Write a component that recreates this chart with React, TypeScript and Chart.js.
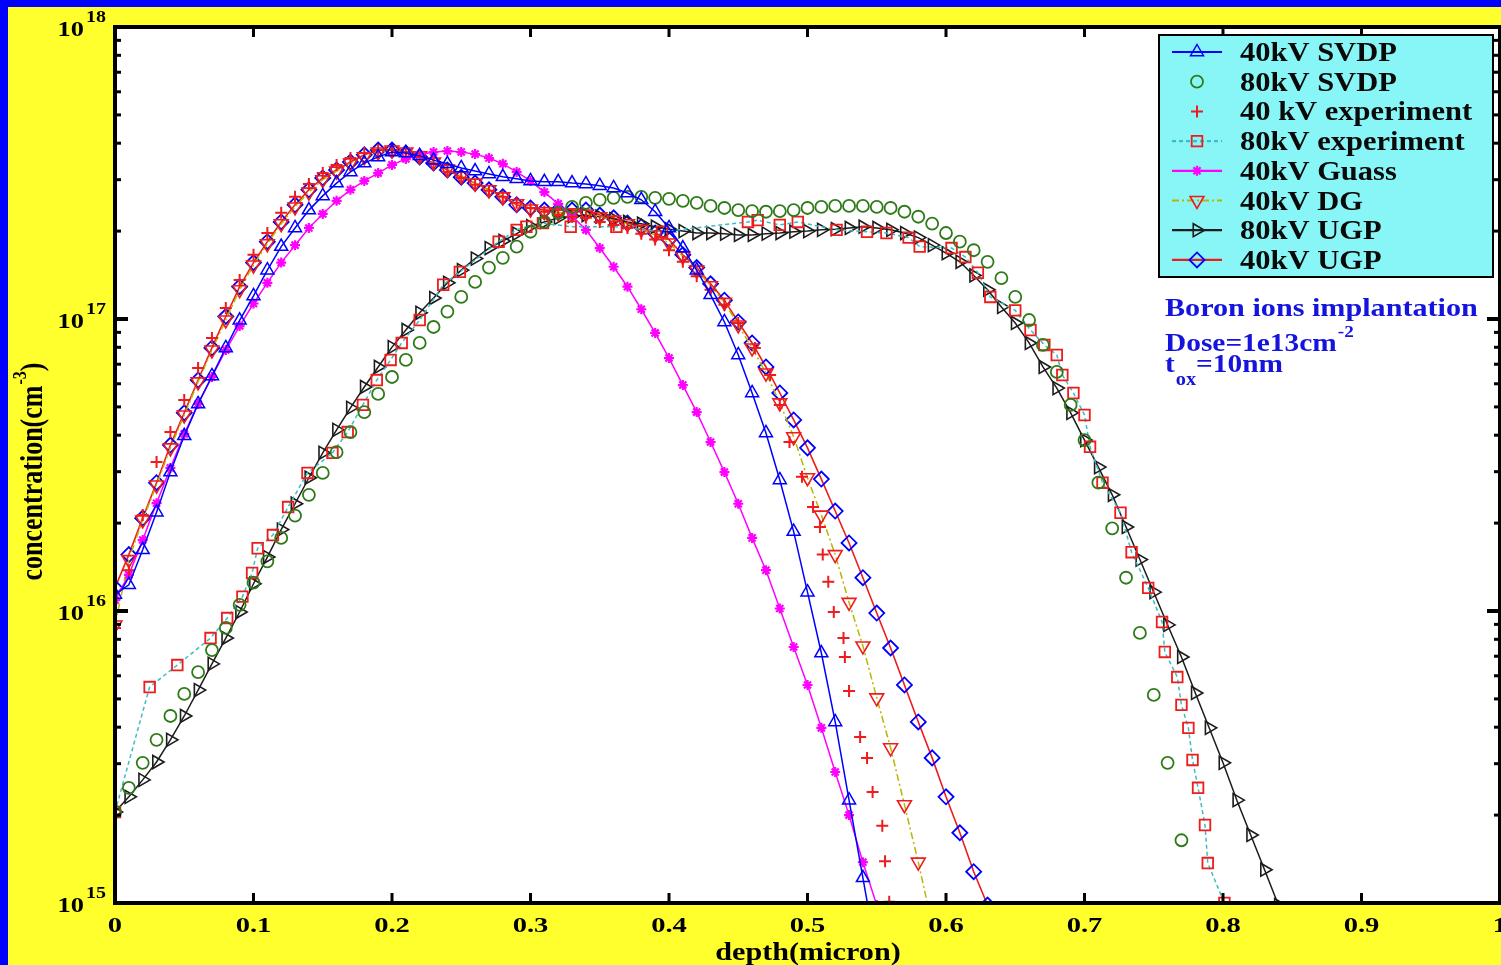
import React, { useEffect, useRef } from 'react';
import { Chart, registerables } from 'chart.js';

Chart.register(...registerables);

// ---------- axis data ----------
const xTickValues = [0, 0.1, 0.2, 0.3, 0.4, 0.5, 0.6, 0.7, 0.8, 0.9, 1];
const xTickLabels = ['0', '0.1', '0.2', '0.3', '0.4', '0.5', '0.6', '0.7', '0.8', '0.9', '1'];
const yDecadeExponents = [15, 16, 17, 18];

// depth grid (micron) shared by the simulated profiles
const depthGrid = [
  0, 0.01, 0.02, 0.03, 0.04, 0.05, 0.06, 0.07, 0.08, 0.09,
  0.1, 0.11, 0.12, 0.13, 0.14, 0.15, 0.16, 0.17, 0.18, 0.19,
  0.2, 0.21, 0.22, 0.23, 0.24, 0.25, 0.26, 0.27, 0.28, 0.29,
  0.3, 0.31, 0.32, 0.33, 0.34, 0.35, 0.36, 0.37, 0.38, 0.39,
  0.4, 0.41, 0.42, 0.43, 0.44, 0.45, 0.46, 0.47, 0.48, 0.49,
  0.5, 0.51, 0.52, 0.53, 0.54, 0.55, 0.56, 0.57, 0.58, 0.59,
  0.6, 0.61, 0.62, 0.63, 0.64, 0.65, 0.66, 0.67, 0.68, 0.69,
  0.7, 0.71, 0.72, 0.73, 0.74, 0.75, 0.76, 0.77, 0.78, 0.79,
  0.8, 0.81, 0.82, 0.83, 0.84,
];

// ---------- series (concentration, cm^-3) ----------
const svdp40 = [
  1.14e16, 1.23e16, 1.62e16, 2.18e16, 2.99e16, 3.98e16, 5.12e16, 6.38e16, 7.96e16, 9.9e16,
  1.20e17, 1.47e17, 1.77e17, 2.05e17, 2.36e17, 2.64e17, 2.92e17, 3.19e17, 3.42e17, 3.59e17,
  3.73e17, 3.70e17, 3.62e17, 3.50e17, 3.40e17, 3.29e17, 3.21e17, 3.14e17, 3.07e17, 3.02e17,
  2.97e17, 2.95e17, 2.95e17, 2.92e17, 2.90e17, 2.86e17, 2.81e17, 2.70e17, 2.56e17, 2.33e17,
  2.05e17, 1.75e17, 1.47e17, 1.21e17, 9.77e16, 7.53e16, 5.58e16, 4.07e16, 2.81e16, 1.87e16,
  1.16e16, 7.18e15, 4.17e15, 2.25e15, 1.22e15, 6.6e14,
];

const svdp80 = [
  2.05e15, 2.48e15, 3.02e15, 3.62e15, 4.37e15, 5.20e15, 6.18e15, 7.35e15, 8.75e15, 1.05e16,
  1.25e16, 1.48e16, 1.78e16, 2.12e16, 2.50e16, 2.97e16, 3.50e16, 4.10e16, 4.80e16, 5.54e16,
  6.33e16, 7.24e16, 8.28e16, 9.39e16, 1.06e17, 1.19e17, 1.34e17, 1.50e17, 1.62e17, 1.77e17,
  1.99e17, 2.15e17, 2.31e17, 2.42e17, 2.50e17, 2.56e17, 2.60e17, 2.62e17, 2.62e17, 2.60e17,
  2.58e17, 2.54e17, 2.50e17, 2.44e17, 2.40e17, 2.36e17, 2.34e17, 2.33e17, 2.34e17, 2.36e17,
  2.40e17, 2.42e17, 2.44e17, 2.44e17, 2.44e17, 2.42e17, 2.40e17, 2.33e17, 2.24e17, 2.12e17,
  1.97e17, 1.84e17, 1.72e17, 1.57e17, 1.38e17, 1.19e17, 9.92e16, 8.15e16, 6.59e16, 5.08e16,
  3.85e16, 2.75e16, 1.92e16, 1.30e16, 8.41e15, 5.16e15, 3.02e15, 1.64e15,
];

const exp40Depth = [
  0, 0.01, 0.02, 0.03, 0.04, 0.05, 0.06, 0.07, 0.08, 0.09,
  0.1, 0.11, 0.12, 0.13, 0.14, 0.15, 0.16, 0.17, 0.18, 0.19,
  0.2, 0.21, 0.22, 0.23, 0.24, 0.25, 0.26, 0.27, 0.28, 0.29,
  0.3, 0.31, 0.32, 0.33, 0.34, 0.35, 0.36, 0.37, 0.38, 0.39,
  0.4, 0.41, 0.42, 0.43, 0.44, 0.45, 0.462, 0.473, 0.48, 0.487,
  0.496, 0.504, 0.509, 0.511, 0.515, 0.519, 0.526, 0.527, 0.53, 0.538,
  0.543, 0.547, 0.554, 0.556, 0.559,
];
const exp40 = [
  8.75e15, 1.38e16, 2.13e16, 3.24e16, 4.10e16, 5.28e16, 6.80e16, 8.61e16, 1.09e17, 1.36e17,
  1.66e17, 1.97e17, 2.31e17, 2.62e17, 2.90e17, 3.16e17, 3.37e17, 3.56e17, 3.70e17, 3.79e17,
  3.79e17, 3.73e17, 3.59e17, 3.40e17, 3.19e17, 3.04e17, 2.88e17, 2.75e17, 2.62e17, 2.50e17,
  2.40e17, 2.33e17, 2.27e17, 2.24e17, 2.22e17, 2.15e17, 2.10e17, 2.05e17, 1.96e17, 1.87e17,
  1.72e17, 1.57e17, 1.40e17, 1.26e17, 1.12e17, 9.69e16, 7.96e16, 6.43e16, 5.08e16, 3.79e16,
  2.88e16, 2.27e16, 1.94e16, 1.56e16, 1.26e16, 9.92e15, 8.08e15, 6.96e15, 5.32e15, 3.70e15,
  3.14e15, 2.40e15, 1.84e15, 1.39e15, 1.01e15,
];

const exp80Depth = [
  0, 0.025, 0.045, 0.069, 0.081, 0.092, 0.099, 0.103, 0.114, 0.125,
  0.139, 0.157, 0.168, 0.179, 0.189, 0.199, 0.207, 0.22, 0.237, 0.249,
  0.277, 0.29, 0.297, 0.309, 0.329, 0.362, 0.395, 0.457, 0.464, 0.48,
  0.493, 0.521, 0.543, 0.557, 0.573, 0.581, 0.604, 0.614, 0.623, 0.632,
  0.65, 0.661, 0.671, 0.68, 0.684, 0.692, 0.7, 0.704, 0.713, 0.726,
  0.734, 0.746, 0.756, 0.758, 0.767, 0.77, 0.775, 0.778, 0.782, 0.787,
  0.789, 0.801,
];
const exp80 = [
  2.05e15, 5.49e15, 6.53e15, 8.08e15, 9.46e15, 1.12e16, 1.35e16, 1.64e16, 1.82e16, 2.27e16,
  2.97e16, 3.48e16, 4.10e16, 5.08e16, 6.18e16, 7.24e16, 8.28e16, 9.92e16, 1.31e17, 1.45e17,
  1.84e17, 2.02e17, 2.07e17, 2.13e17, 2.07e17, 2.07e17, 1.99e17, 2.15e17, 2.18e17, 2.10e17,
  2.15e17, 2.02e17, 1.99e17, 1.97e17, 1.90e17, 1.77e17, 1.75e17, 1.63e17, 1.44e17, 1.19e17,
  1.07e17, 9.17e16, 8.15e16, 7.53e16, 6.43e16, 5.58e16, 4.69e16, 3.65e16, 2.75e16, 2.17e16,
  1.59e16, 1.20e16, 9.17e15, 7.24e15, 5.94e15, 4.77e15, 3.98e15, 3.09e15, 2.48e15, 1.85e15,
  1.37e15, 1.00e15,
];

const gauss40 = [
  1.09e16, 1.33e16, 1.75e16, 2.34e16, 3.09e16, 4.04e16, 5.12e16, 6.33e16, 7.83e16, 9.46e16,
  1.13e17, 1.33e17, 1.56e17, 1.79e17, 2.05e17, 2.29e17, 2.54e17, 2.77e17, 2.97e17, 3.16e17,
  3.37e17, 3.53e17, 3.65e17, 3.73e17, 3.76e17, 3.73e17, 3.67e17, 3.56e17, 3.40e17, 3.19e17,
  2.97e17, 2.72e17, 2.48e17, 2.25e17, 2.02e17, 1.75e17, 1.51e17, 1.29e17, 1.08e17, 8.96e16,
  7.35e16, 5.94e16, 4.80e16, 3.79e16, 2.99e16, 2.33e16, 1.78e16, 1.38e16, 1.02e16, 7.53e15,
  5.58e15, 3.98e15, 2.81e15, 2.00e15, 1.38e15, 9.84e14,
];

const dg40 = [
  8.96e15, 1.50e16, 2.05e16, 2.70e16, 3.62e16, 4.69e16, 6.09e16, 7.83e16, 9.92e16, 1.26e17,
  1.53e17, 1.81e17, 2.12e17, 2.42e17, 2.72e17, 3.00e17, 3.21e17, 3.42e17, 3.59e17, 3.73e17,
  3.79e17, 3.73e17, 3.62e17, 3.45e17, 3.26e17, 3.09e17, 2.92e17, 2.77e17, 2.62e17, 2.48e17,
  2.38e17, 2.33e17, 2.31e17, 2.31e17, 2.29e17, 2.24e17, 2.18e17, 2.12e17, 2.03e17, 1.94e17,
  1.82e17, 1.64e17, 1.47e17, 1.30e17, 1.14e17, 9.54e16, 7.96e16, 6.53e16, 5.16e16, 3.95e16,
  2.86e16, 2.13e16, 1.56e16, 1.07e16, 7.59e15, 5.04e15, 3.40e15, 2.17e15, 1.38e15, 8.41e14,
];

const ugp80 = [
  2.05e15, 2.31e15, 2.64e15, 3.04e15, 3.62e15, 4.37e15, 5.36e15, 6.59e15, 8.08e15, 9.92e15,
  1.24e16, 1.53e16, 1.90e16, 2.33e16, 2.86e16, 3.48e16, 4.17e16, 4.96e16, 5.85e16, 6.85e16,
  8.01e16, 9.17e16, 1.05e17, 1.18e17, 1.33e17, 1.47e17, 1.61e17, 1.75e17, 1.85e17, 1.96e17,
  2.08e17, 2.15e17, 2.22e17, 2.25e17, 2.27e17, 2.24e17, 2.20e17, 2.15e17, 2.12e17, 2.07e17,
  2.03e17, 2.00e17, 1.97e17, 1.97e17, 1.96e17, 1.94e17, 1.94e17, 1.96e17, 1.97e17, 1.99e17,
  2.00e17, 2.02e17, 2.03e17, 2.05e17, 2.07e17, 2.05e17, 2.02e17, 1.97e17, 1.90e17, 1.79e17,
  1.68e17, 1.57e17, 1.41e17, 1.26e17, 1.10e17, 9.69e16, 8.28e16, 6.85e16, 5.80e16, 4.77e16,
  3.85e16, 3.11e16, 2.50e16, 1.94e16, 1.50e16, 1.16e16, 8.96e15, 6.96e15, 5.24e15, 3.98e15,
  3.02e15, 2.25e15, 1.71e15, 1.30e15, 9.84e14,
];

const ugp40 = [
  1.20e16, 1.56e16, 2.08e16, 2.75e16, 3.70e16, 4.77e16, 6.18e16, 7.96e16, 1.02e17, 1.29e17,
  1.56e17, 1.84e17, 2.15e17, 2.46e17, 2.77e17, 3.04e17, 3.24e17, 3.45e17, 3.65e17, 3.79e17,
  3.79e17, 3.70e17, 3.59e17, 3.42e17, 3.24e17, 3.06e17, 2.92e17, 2.77e17, 2.62e17, 2.46e17,
  2.40e17, 2.36e17, 2.36e17, 2.36e17, 2.36e17, 2.27e17, 2.22e17, 2.13e17, 2.07e17, 1.97e17,
  1.87e17, 1.66e17, 1.50e17, 1.32e17, 1.16e17, 9.77e16, 8.28e16, 6.85e16, 5.58e16, 4.51e16,
  3.62e16, 2.83e16, 2.20e16, 1.71e16, 1.30e16, 9.84e15, 7.47e15, 5.58e15, 4.17e15, 3.14e15,
  2.31e15, 1.74e15, 1.28e15, 9.84e14,
];

// ---------- styling ----------
const SERIF = '"Liberation Serif", "DejaVu Serif", "Times New Roman", serif';
const BLUE = '#0000ff';
const GREEN = '#2e7a18';
const RED = '#ee1c1c';
const CYAN = '#3cbcc4';
const MAGENTA = '#ff00ff';
const OLIVE = '#b9b600';
const BLACK = '#1c1c1c';
const NOTE_BLUE = '#1414dc';
const PAGE_BLUE = '#0000ff';
const PAGE_YELLOW = '#ffff2e';
const LEGEND_CYAN = '#88f6f6';

const onGrid = (ys: number[]) => ys.map((y, i) => ({ x: depthGrid[i], y }));
const paired = (xs: number[], ys: number[]) => xs.map((x, i) => ({ x, y: ys[i] }));

function drawText(ctx: any, s: string, x: number, y: number, size: number, color: string, align: CanvasTextAlign, sx = 1) {
  ctx.save();
  ctx.translate(x, y);
  ctx.scale(sx, 1);
  ctx.font = `bold ${size}px ${SERIF}`;
  ctx.fillStyle = color;
  ctx.textAlign = align;
  ctx.textBaseline = 'alphabetic';
  ctx.fillText(s, 0, 0);
  ctx.restore();
}

function measure(ctx: any, s: string, size: number, sx = 1) {
  ctx.save();
  ctx.font = `bold ${size}px ${SERIF}`;
  const w = ctx.measureText(s).width * sx;
  ctx.restore();
  return w;
}

function drawMarker(ctx: any, style: string, x: number, y: number, r: number, rotDeg: number, stroke: string, fill: string, lw: number) {
  ctx.save();
  ctx.translate(x, y);
  ctx.rotate((rotDeg * Math.PI) / 180);
  ctx.beginPath();
  ctx.setLineDash([]);
  ctx.lineWidth = lw;
  ctx.strokeStyle = stroke;
  ctx.fillStyle = fill;
  let closed = true;
  if (style === 'triangle') {
    ctx.moveTo(0, -r);
    ctx.lineTo(r * 0.866, r * 0.5);
    ctx.lineTo(-r * 0.866, r * 0.5);
    ctx.closePath();
  } else if (style === 'circle') {
    ctx.arc(0, 0, r, 0, Math.PI * 2);
  } else if (style === 'rect') {
    const s = r * Math.SQRT1_2;
    ctx.rect(-s, -s, 2 * s, 2 * s);
  } else if (style === 'rectRot') {
    ctx.moveTo(-r, 0);
    ctx.lineTo(0, -r);
    ctx.lineTo(r, 0);
    ctx.lineTo(0, r);
    ctx.closePath();
  } else if (style === 'cross') {
    closed = false;
    ctx.moveTo(0, -r); ctx.lineTo(0, r);
    ctx.moveTo(-r, 0); ctx.lineTo(r, 0);
  } else if (style === 'star') {
    closed = false;
    ctx.moveTo(0, -r); ctx.lineTo(0, r);
    ctx.moveTo(-r, 0); ctx.lineTo(r, 0);
    const d = r * Math.SQRT1_2;
    ctx.moveTo(-d, -d); ctx.lineTo(d, d);
    ctx.moveTo(-d, d); ctx.lineTo(d, -d);
  }
  if (closed) ctx.fill();
  ctx.stroke();
  ctx.restore();
}

const decorPlugin = {
  id: 'decor',
  beforeDraw(chart: any) {
    const { ctx, width, height, chartArea: a } = chart;
    ctx.save();
    ctx.fillStyle = PAGE_BLUE;
    ctx.fillRect(0, 0, width, height);
    ctx.fillStyle = PAGE_YELLOW;
    ctx.fillRect(8, 7, width - 8, height - 7);
    ctx.fillStyle = '#ffffff';
    ctx.fillRect(a.left, a.top, a.right - a.left, a.bottom - a.top);
    ctx.restore();
  },
  afterDraw(chart: any) {
    const { ctx, chartArea: a, scales } = chart;
    const xs = scales.x;
    const ys = scales.y;
    const seg = (x1: number, y1: number, x2: number, y2: number) => {
      ctx.beginPath();
      ctx.moveTo(x1, y1);
      ctx.lineTo(x2, y2);
      ctx.stroke();
    };
    ctx.save();
    ctx.strokeStyle = '#000';
    ctx.setLineDash([]);
    // inward ticks
    xTickValues.forEach((v) => {
      const px = xs.getPixelForValue(v);
      ctx.lineWidth = 3;
      seg(px, a.bottom, px, a.bottom - 10);
      seg(px, a.top, px, a.top + 10);
    });
    yDecadeExponents.forEach((e, i) => {
      const py = ys.getPixelForValue(Math.pow(10, e));
      ctx.lineWidth = 4;
      seg(a.left, py, a.left + 13, py);
      seg(a.right, py, a.right - 13, py);
      if (i < yDecadeExponents.length - 1) {
        for (let m = 2; m <= 9; m++) {
          const p = ys.getPixelForValue(m * Math.pow(10, e));
          ctx.lineWidth = 3;
          seg(a.left, p, a.left + 6, p);
          seg(a.right, p, a.right - 6, p);
        }
      }
    });
    // frame
    ctx.lineWidth = 4;
    ctx.strokeRect(a.left, a.top, a.right - a.left, a.bottom - a.top);

    // x tick labels
    xTickValues.forEach((v, i) => {
      drawText(ctx, xTickLabels[i], xs.getPixelForValue(v), 932, 22, '#000', 'center', 1.3);
    });
    // y tick labels 10^n
    yDecadeExponents.forEach((e) => {
      const py = ys.getPixelForValue(Math.pow(10, e));
      drawText(ctx, '10', 84, py + 9, 22, '#000', 'right', 1.2);
      drawText(ctx, String(e), 86, py - 5, 16, '#000', 'left', 1.25);
    });

    // x axis title
    drawText(ctx, 'depth(micron)', 808, 960, 26, '#000', 'center', 1.16);

    // y axis title (rotated)
    ctx.save();
    ctx.translate(42, 472);
    ctx.rotate(-Math.PI / 2);
    ctx.scale(1, 1.2);
    ctx.fillStyle = '#000';
    ctx.textAlign = 'left';
    ctx.textBaseline = 'alphabetic';
    ctx.font = `bold 26px ${SERIF}`;
    const w1 = ctx.measureText('concentration(cm').width;
    const w3 = ctx.measureText(')').width;
    ctx.font = `bold 16px ${SERIF}`;
    const w2 = ctx.measureText('-3').width;
    const start = -(w1 + w2 + w3) / 2;
    ctx.font = `bold 26px ${SERIF}`;
    ctx.fillText('concentration(cm', start, 0);
    ctx.fillText(')', start + w1 + w2 + 1, 0);
    ctx.font = `bold 16px ${SERIF}`;
    ctx.fillText('-3', start + w1 + 1, -13);
    ctx.restore();

    // legend
    const lx = 1159, ly = 35, lw = 334, lh = 242;
    ctx.fillStyle = LEGEND_CYAN;
    ctx.fillRect(lx, ly, lw, lh);
    ctx.lineWidth = 2;
    ctx.strokeStyle = '#000';
    ctx.strokeRect(lx, ly, lw, lh);
    chart.data.datasets.forEach((ds: any, i: number) => {
      const cy = 52 + i * 29.7;
      if (ds.showLine) {
        ctx.save();
        ctx.strokeStyle = ds.borderColor;
        ctx.lineWidth = 2.2;
        ctx.setLineDash(ds.borderDash || []);
        seg(1172, cy, 1222, cy);
        ctx.restore();
      }
      drawMarker(ctx, ds.pointStyle, 1197, cy, ds.pointRadius, ds.pointRotation || 0, ds.pointBorderColor,
        ds.pointStyle === 'star' ? MAGENTA : 'rgba(0,0,0,0)', ds.pointBorderWidth);
      drawText(ctx, ds.label, 1240, cy + 9, 27, '#0a0a0a', 'left', 1.13);
    });

    // annotation
    drawText(ctx, 'Boron ions implantation', 1165, 316, 26, NOTE_BLUE, 'left', 1.16);
    const wd = measure(ctx, 'Dose=1e13cm', 26, 1.13);
    drawText(ctx, 'Dose=1e13cm', 1165, 351, 26, NOTE_BLUE, 'left', 1.13);
    drawText(ctx, '-2', 1165 + wd + 1, 337, 17, NOTE_BLUE, 'left', 1.13);
    const wt = measure(ctx, 't', 26, 1.13);
    drawText(ctx, 't', 1165, 372, 26, NOTE_BLUE, 'left', 1.13);
    const wo = measure(ctx, 'ox', 18, 1.13);
    drawText(ctx, 'ox', 1165 + wt + 1, 385, 18, NOTE_BLUE, 'left', 1.13);
    drawText(ctx, '=10nm', 1165 + wt + wo + 1, 372, 26, NOTE_BLUE, 'left', 1.13);
    ctx.restore();
  },
};

export default function App() {
  const canvasRef = useRef<HTMLCanvasElement | null>(null);

  useEffect(() => {
    const canvas = canvasRef.current;
    if (!canvas) return;
    const hollow = 'rgba(0,0,0,0)';
    const chart = new Chart(canvas, {
      type: 'scatter',
      data: {
        datasets: [
          {
            label: '40kV SVDP', data: onGrid(svdp40), showLine: true,
            borderColor: BLUE, borderWidth: 1.5, pointStyle: 'triangle', pointRadius: 7.5,
            pointBorderColor: BLUE, pointBackgroundColor: hollow, pointBorderWidth: 1.5,
          },
          {
            label: '80kV SVDP', data: onGrid(svdp80), showLine: false,
            borderColor: GREEN, pointStyle: 'circle', pointRadius: 6,
            pointBorderColor: GREEN, pointBackgroundColor: hollow, pointBorderWidth: 1.8,
          },
          {
            label: '40 kV experiment', data: paired(exp40Depth, exp40), showLine: false,
            borderColor: RED, pointStyle: 'cross', pointRadius: 6,
            pointBorderColor: RED, pointBackgroundColor: hollow, pointBorderWidth: 2,
          },
          {
            label: '80kV experiment', data: paired(exp80Depth, exp80), showLine: true,
            borderColor: CYAN, borderWidth: 1.5, borderDash: [4, 3], pointStyle: 'rect', pointRadius: 7.5,
            pointBorderColor: RED, pointBackgroundColor: hollow, pointBorderWidth: 1.8,
          },
          {
            label: '40kV Guass', data: onGrid(gauss40), showLine: true,
            borderColor: MAGENTA, borderWidth: 1.5, pointStyle: 'star', pointRadius: 5,
            pointBorderColor: MAGENTA, pointBackgroundColor: MAGENTA, pointBorderWidth: 2.2,
          },
          {
            label: '40kV DG', data: onGrid(dg40), showLine: true,
            borderColor: OLIVE, borderWidth: 1.5, borderDash: [7, 3, 2, 3], pointStyle: 'triangle', pointRadius: 8,
            pointRotation: 180, pointBorderColor: RED, pointBackgroundColor: hollow, pointBorderWidth: 1.6,
          },
          {
            label: '80kV UGP', data: onGrid(ugp80), showLine: true,
            borderColor: BLACK, borderWidth: 1.5, pointStyle: 'triangle', pointRadius: 7.5,
            pointRotation: 90, pointBorderColor: BLACK, pointBackgroundColor: hollow, pointBorderWidth: 1.6,
          },
          {
            label: '40kV UGP', data: onGrid(ugp40), showLine: true,
            borderColor: RED, borderWidth: 1.6, pointStyle: 'rectRot', pointRadius: 7.5,
            pointBorderColor: BLUE, pointBackgroundColor: hollow, pointBorderWidth: 1.8,
          },
        ] as any,
      },
      options: {
        animation: false,
        responsive: false,
        devicePixelRatio: 1,
        events: [],
        layout: { autoPadding: false, padding: { top: 27, right: 1, left: 0, bottom: 0 } },
        elements: { line: { tension: 0 } },
        plugins: { legend: { display: false }, tooltip: { enabled: false }, title: { display: false } },
        scales: {
          x: {
            type: 'linear', min: 0, max: 1,
            ticks: { display: false, stepSize: 0.1 },
            grid: { display: false },
            border: { display: false },
            afterFit: (s: any) => { s.height = 62; },
          },
          y: {
            type: 'logarithmic', min: 1e15, max: 1e18,
            ticks: { display: false },
            grid: { display: false },
            border: { display: false },
            afterFit: (s: any) => { s.width = 115; },
          },
        },
      } as any,
      plugins: [decorPlugin as any],
    });
    return () => chart.destroy();
  }, []);

  return (
    <div style={{ position: 'absolute', left: 0, top: 0, width: 1501, height: 965, overflow: 'hidden' }}>
      <canvas ref={canvasRef} width={1501} height={965} style={{ display: 'block', width: 1501, height: 965 }} />
    </div>
  );
}
